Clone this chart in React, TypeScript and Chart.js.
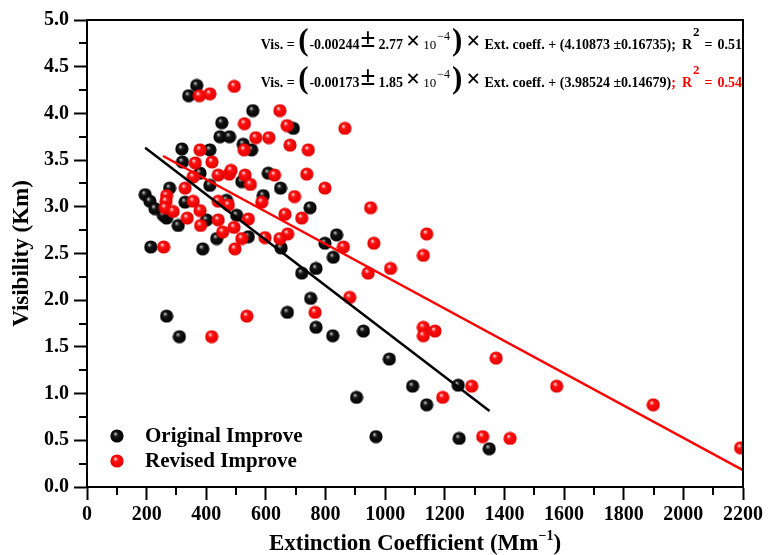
import React, { useEffect, useRef } from "react";
import { Chart, registerables } from "chart.js";

Chart.register(...registerables);

// ---------- data ----------
const xTickValues = [0, 200, 400, 600, 800, 1000, 1200, 1400, 1600, 1800, 2000, 2200];
const yTickValues = [0.0, 0.5, 1.0, 1.5, 2.0, 2.5, 3.0, 3.5, 4.0, 4.5, 5.0];

const originalX = [
  368, 341, 556, 452, 446, 478, 524, 552, 318, 412, 320, 692, 608, 649, 379, 277, 195, 211, 228, 267,
  306, 329, 401, 435, 214, 388, 412, 502, 519, 591, 748, 541, 651, 798, 837, 826, 720, 768, 750, 768,
  824, 927, 1014, 904, 1092, 1139, 1245, 969, 1248, 1349, 267, 310, 672, 468, 256,
];
const originalY = [
  4.30, 4.19, 4.03, 3.90, 3.75, 3.75, 3.67, 3.61, 3.62, 3.61, 3.48, 3.84, 3.36, 3.20, 3.36, 3.20, 3.13, 3.06, 2.98, 2.88,
  2.80, 3.05, 2.86, 2.66, 2.57, 2.55, 3.23, 2.91, 3.27, 3.12, 2.99, 2.68, 2.56, 2.61, 2.70, 2.46, 2.29, 2.34, 2.02, 1.71,
  1.62, 1.67, 1.37, 0.96, 1.08, 0.88, 1.09, 0.54, 0.52, 0.41, 1.83, 1.61, 1.87, 3.07, 2.91,
];

const revisedX = [
  494, 377, 412, 647, 528, 671, 566, 610, 681, 527, 379, 363, 419, 440, 477, 483, 530, 548, 629, 356,
  329, 696, 267, 265, 262, 289, 356, 379, 336, 381, 440, 440, 474, 455, 493, 257, 496, 742, 737, 798,
  586, 664, 720, 541, 673, 647, 597, 519, 865, 951, 860, 962, 1139, 1128, 943, 1018, 881, 765, 1128, 1128,
  1167, 1372, 1290, 1193, 1327, 1419, 1575, 1899, 2192, 536, 418,
];
const revisedY = [
  4.29, 4.19, 4.21, 4.03, 3.89, 3.87, 3.74, 3.74, 3.66, 3.61, 3.61, 3.47, 3.48, 3.34, 3.35, 3.39, 3.34, 3.24, 3.34, 3.32,
  3.20, 3.11, 3.12, 3.06, 2.99, 2.95, 3.06, 2.96, 2.88, 2.80, 2.86, 3.06, 3.02, 2.73, 2.78, 2.57, 2.55, 3.61, 3.35, 3.20,
  3.05, 2.92, 2.88, 2.87, 2.71, 2.66, 2.67, 2.66, 3.84, 2.99, 2.57, 2.61, 2.71, 2.48, 2.29, 2.34, 2.03, 1.87, 1.71, 1.62,
  1.67, 1.38, 1.08, 0.96, 0.54, 0.52, 1.08, 0.88, 0.42, 1.83, 1.61,
];

// fitted lines (from the printed equations)
const originalFit = { slope: -0.00244, intercept: 4.10873, from: 195, to: 1350 };
const revisedFit = { slope: -0.00173, intercept: 3.98524, from: 255, to: 2200 };

const seriesNames = ["Original Improve", "Revised Improve"];

// ---------- styling ----------
const SERIF = '"Liberation Serif", "Times New Roman", serif';
const BLACK = "#000000";
const RED = "#ff0000";

function makeSphere(edge: string, mid: string, hi: string): HTMLCanvasElement {
  const c = document.createElement("canvas");
  c.width = 14;
  c.height = 14;
  const g = c.getContext("2d")!;
  const grad = g.createRadialGradient(5.2, 4.6, 0.2, 7, 7, 7);
  grad.addColorStop(0, hi);
  grad.addColorStop(0.32, mid);
  grad.addColorStop(1, edge);
  g.fillStyle = grad;
  g.beginPath();
  g.arc(7, 7, 6.6, 0, Math.PI * 2);
  g.fill();
  return c;
}

type Seg = { t: string; f: string; c?: string; dy?: number; gap?: number };

function drawSegs(ctx: CanvasRenderingContext2D, segs: Seg[], rightX: number, baseY: number) {
  const widths = segs.map((s) => {
    ctx.font = s.f;
    return ctx.measureText(s.t).width + (s.gap || 0);
  });
  const total = widths.reduce((a, b) => a + b, 0);
  let x = rightX - total;
  ctx.textAlign = "left";
  ctx.textBaseline = "alphabetic";
  segs.forEach((s, i) => {
    ctx.font = s.f;
    ctx.fillStyle = s.c || BLACK;
    ctx.fillText(s.t, x, baseY + (s.dy || 0));
    x += widths[i];
  });
}

function equation(slope: string, slopeErr: string, rest: string, r2: string, r2Color: string, semi: boolean): Seg[] {
  const B14 = `bold 14px ${SERIF}`;
  const segs: Seg[] = [
    { t: "Vis. = ", f: B14 },
    { t: "(", f: `bold 31px ${SERIF}`, dy: 1, gap: 1 },
    { t: slope, f: B14, gap: 1 },
    { t: "±", f: `bold 27px ${SERIF}`, dy: -2, gap: 3 },
    { t: slopeErr, f: B14, gap: 3 },
    { t: "×", f: `bold 25px ${SERIF}`, dy: 0, gap: 3 },
    { t: "10", f: `13px ${SERIF}`, gap: 1 },
    { t: "−4", f: `12px ${SERIF}`, dy: -9, gap: 2 },
    { t: ")", f: `bold 31px ${SERIF}`, dy: 1, gap: 4 },
    { t: "×", f: `bold 25px ${SERIF}`, gap: 4 },
    { t: rest, f: B14 },
  ];
  segs.push({ t: ";", f: B14, c: semi ? BLACK : r2Color, gap: 6 });
  segs.push({ t: "R", f: B14, c: r2Color, gap: 1 });
  segs.push({ t: "2", f: `bold 13px ${SERIF}`, c: r2Color, dy: -13, gap: 5 });
  segs.push({ t: "=", f: B14, c: r2Color, gap: 5 });
  segs.push({ t: r2, f: B14, c: r2Color });
  return segs;
}

const decorPlugin = {
  id: "decor",
  afterDraw(chart: any, _args: any, opts: any) {
    const ctx: CanvasRenderingContext2D = chart.ctx;
    const { left, right, top, bottom } = chart.chartArea;
    const xs = chart.scales.x;
    const ys = chart.scales.y;
    ctx.save();
    // frame
    ctx.strokeStyle = BLACK;
    ctx.lineWidth = 2;
    ctx.strokeRect(left, top, right - left, bottom - top);
    // minor ticks
    ctx.beginPath();
    for (let i = 0; i < xTickValues.length - 1; i++) {
      const v = (xTickValues[i] + xTickValues[i + 1]) / 2;
      const px = Math.round(xs.getPixelForValue(v));
      ctx.moveTo(px, bottom);
      ctx.lineTo(px, bottom + 8);
    }
    for (let i = 0; i < yTickValues.length - 1; i++) {
      const v = (yTickValues[i] + yTickValues[i + 1]) / 2;
      const py = Math.round(ys.getPixelForValue(v));
      ctx.moveTo(left, py);
      ctx.lineTo(left - 8, py);
    }
    ctx.stroke();

    // axis titles
    ctx.fillStyle = BLACK;
    ctx.font = `bold 23px ${SERIF}`;
    ctx.textAlign = "center";
    ctx.textBaseline = "middle";
    ctx.save();
    ctx.translate(22, (top + bottom) / 2);
    ctx.rotate(-Math.PI / 2);
    ctx.fillText("Visibility (Km)", 0, 0);
    ctx.restore();

    const main = "Extinction Coefficient (Mm";
    const sup = "−1";
    const close = ")";
    ctx.font = `bold 23px ${SERIF}`;
    const w1 = ctx.measureText(main).width;
    const w3 = ctx.measureText(close).width;
    ctx.font = `bold 14px ${SERIF}`;
    const w2 = ctx.measureText(sup).width;
    const x0 = (left + right) / 2 - (w1 + w2 + w3) / 2;
    const yb = 550;
    ctx.textAlign = "left";
    ctx.textBaseline = "alphabetic";
    ctx.font = `bold 23px ${SERIF}`;
    ctx.fillText(main, x0, yb);
    ctx.font = `bold 14px ${SERIF}`;
    ctx.fillText(sup, x0 + w1, yb - 10);
    ctx.font = `bold 23px ${SERIF}`;
    ctx.fillText(close, x0 + w1 + w2, yb);

    // legend
    const sph = opts.spheres;
    const legY = [436, 461];
    ctx.font = `bold 21px ${SERIF}`;
    ctx.textBaseline = "middle";
    seriesNames.forEach((name, i) => {
      ctx.drawImage(sph[i], 117 - 7, legY[i] - 7);
      ctx.fillStyle = BLACK;
      ctx.fillText(name, 145, legY[i] + 1);
    });

    // equations
    drawSegs(ctx, equation("-0.00244", "2.77", "Ext. coeff. + (4.10873 ±0.16735)", "0.51", BLACK, true), 742, 48.5);
    drawSegs(ctx, equation("-0.00173", "1.85", "Ext. coeff. + (3.98524 ±0.14679)", "0.54", RED, false), 742, 86.5);
    ctx.restore();
  },
};

export default function App() {
  const ref = useRef<HTMLCanvasElement | null>(null);

  useEffect(() => {
    if (!ref.current) return;
    const blackSphere = makeSphere("#000000", "#151515", "#c8c8c8");
    const redSphere = makeSphere("#e00000", "#ff1010", "#ffe8e8");

    const toPts = (xs: number[], ys: number[]) => xs.map((x, i) => ({ x, y: ys[i] }));
    const fitPts = (f: { slope: number; intercept: number; from: number; to: number }) => [
      { x: f.from, y: f.intercept + f.slope * f.from },
      { x: f.to, y: f.intercept + f.slope * f.to },
    ];

    const tickFont = { family: SERIF, size: 20, weight: "bold" as const };

    const chart = new Chart(ref.current, {
      type: "scatter",
      data: {
        datasets: [
          {
            type: "line",
            label: "Original fit",
            data: fitPts(originalFit),
            borderColor: BLACK,
            borderWidth: 2.5,
            pointRadius: 0,
            fill: false,
          } as any,
          {
            type: "line",
            label: "Revised fit",
            data: fitPts(revisedFit),
            borderColor: RED,
            borderWidth: 2.5,
            pointRadius: 0,
            fill: false,
          } as any,
          {
            label: seriesNames[1],
            data: toPts(revisedX, revisedY),
            pointStyle: redSphere as any,
            pointRadius: 7,
          },
          {
            label: seriesNames[0],
            data: toPts(originalX, originalY),
            pointStyle: blackSphere as any,
            pointRadius: 7,
          },
        ],
      },
      options: {
        responsive: false,
        animation: false,
        layout: { padding: { left: 0, top: 20, right: 27, bottom: 0 } },
        plugins: {
          legend: { display: false },
          tooltip: { enabled: false },
          decor: { spheres: [blackSphere, redSphere] },
        } as any,
        scales: {
          x: {
            type: "linear",
            min: 0,
            max: 2200,
            afterBuildTicks: (s: any) => {
              s.ticks = xTickValues.map((v) => ({ value: v }));
            },
            afterFit: (s: any) => {
              s.height = 68;
            },
            ticks: {
              color: BLACK,
              font: tickFont,
              padding: 3,
              maxRotation: 0,
              autoSkip: false,
              callback: (v: any) => String(v),
            },
            grid: {
              drawOnChartArea: false,
              drawTicks: true,
              tickLength: 13,
              tickWidth: 2,
              tickColor: BLACK,
              color: BLACK,
            },
            border: { display: true, color: BLACK, width: 2 },
          },
          y: {
            type: "linear",
            min: 0,
            max: 5,
            afterBuildTicks: (s: any) => {
              s.ticks = yTickValues.map((v) => ({ value: v }));
            },
            afterFit: (s: any) => {
              s.width = 87;
            },
            ticks: {
              color: BLACK,
              font: tickFont,
              padding: 5,
              autoSkip: false,
              callback: (v: any) => Number(v).toFixed(1),
            },
            grid: {
              drawOnChartArea: false,
              drawTicks: true,
              tickLength: 13,
              tickWidth: 2,
              tickColor: BLACK,
              color: BLACK,
            },
            border: { display: true, color: BLACK, width: 2 },
          },
        },
      },
      plugins: [decorPlugin as any],
    });
    return () => chart.destroy();
  }, []);

  return (
    <div style={{ position: "absolute", left: 0, top: 0, width: 770, height: 555, background: "#fff" }}>
      <canvas ref={ref} width={770} height={555} style={{ display: "block" }} />
    </div>
  );
}
